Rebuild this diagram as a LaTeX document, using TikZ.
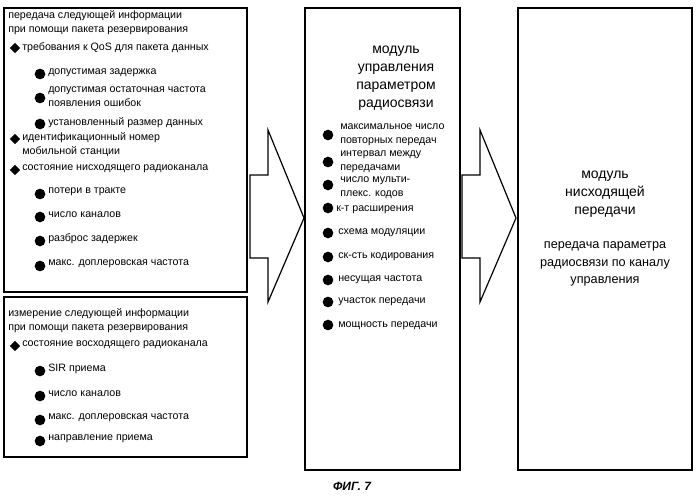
\documentclass[tikz,border=0pt]{standalone}
\usepackage{fontspec}
\setmainfont{Liberation Sans}
\begin{document}
\begin{tikzpicture}[x=0.75pt,y=-0.75pt,
  box/.style={draw,line width=0.9pt},
  txt/.style={anchor=west,font=\fontsize{8}{9}\selectfont,inner sep=0pt},
  two/.style={txt,align=left,font=\fontsize{8}{10.5}\selectfont},
  big/.style={align=center,font=\fontsize{10.5}{13.5}\selectfont,inner sep=0pt},
  dot/.style={circle,fill,inner sep=0pt,minimum size=8pt},
  dia/.style={diamond,fill,inner sep=0pt,minimum size=8pt},
  barrow/.style={draw,line width=0.9pt,fill=white}]
\usetikzlibrary{shapes.geometric}
\useasboundingbox (0,0) rectangle (698,500);
\draw[box] (4,8) rectangle (247,292);
\draw[box] (4,297) rectangle (247,457);
\draw[box] (305,8) rectangle (460,470);
\draw[box] (518,8) rectangle (692,470);
\draw[barrow] (250,175) -- (268,175) -- (268,130) -- (304,218) -- (268,302) -- (268,258) -- (250,258) -- cycle;
\draw[barrow] (462,175) -- (480,175) -- (480,130) -- (516,218) -- (480,302) -- (480,258) -- (462,258) -- cycle;
% left box
\node[txt] (l1) at (8,16) {передача следующей информации};
\node[txt] (l2) at (8,31) {при помощи пакета резервирования};
\node[dia] (d1) at (15,48) {}; \node[txt] (t1) at (22,48) {требования к QoS для пакета данных};
\node[dot] (b1) at (40,74) {}; \node[txt] at (48,73) {допустимая задержка};
\node[dot] (b2) at (40,98) {}; \node[two] at (48,97) {допустимая остаточная частота\\появления ошибок};
\node[dot] (b3) at (40,124) {}; \node[txt] at (48,123) {установленный размер данных};
\node[dia] (d2) at (15,139) {}; \node[two] at (22,145) {идентификационный номер\\мобильной станции};
\node[dia] (d3) at (15,170) {}; \node[txt] at (22,169) {состояние нисходящего радиоканала};
\node[dot] (b4) at (40,194) {}; \node[txt] at (48,192) {потери в тракте};
\node[dot] (b5) at (40,217) {}; \node[txt] at (48,215) {число каналов};
\node[dot] (b6) at (40,241) {}; \node[txt] at (48,239) {разброс задержек};
\node[dot] (b7) at (40,266) {}; \node[txt] at (48,264) {макс. доплеровская частота};
% second box
\node[txt] at (8,314) {измерение следующей информации};
\node[txt] at (8,329) {при помощи пакета резервирования};
\node[dia] (d4) at (15,346) {}; \node[txt] at (22,345) {состояние восходящего радиоканала};
\node[dot] (c1) at (40,371) {}; \node[txt] at (48,369) {SIR приема};
\node[dot] (c2) at (40,396) {}; \node[txt] at (48,394) {число каналов};
\node[dot] (c3) at (40,420) {}; \node[txt] at (48,418) {макс. доплеровская частота};
\node[dot] (c4) at (40,441) {}; \node[txt] at (48,439) {направление приема};
% middle
\node[big] (m) at (396,78) {модуль\\управления\\параметром\\радиосвязи};
\node[dot] at (328,135) {}; \node[two] at (340,135) {максимальное число\\повторных передач};
\node[dot] at (328,162) {}; \node[two] at (340,162) {интервал между\\передачами};
\node[dot] at (328,185) {}; \node[two] at (340,188) {число мульти-\\плекс. кодов};
\node[dot] at (328,208) {}; \node[txt] at (336,210) {к-т расширения};
\node[dot] at (328,233) {}; \node[txt] at (338,233) {схема модуляции};
\node[dot] at (328,257) {}; \node[txt] at (338,257) {ск-сть кодирования};
\node[dot] at (328,280) {}; \node[txt] at (338,280) {несущая частота};
\node[dot] at (328,302) {}; \node[txt] at (338,302) {участок передачи};
\node[dot] at (328,325) {}; \node[txt] at (338,326) {мощность передачи};
% right
\node[big] (r) at (605,194) {модуль\\нисходящей\\передачи};
\node[align=center,font=\fontsize{9.5}{13}\selectfont,inner sep=0pt] (r2) at (605,264) {передача параметра\\радиосвязи по каналу\\управления};
\node[font=\bfseries\itshape\fontsize{9}{10}\selectfont] (cap) at (352,486) {ФИГ. 7};
\end{tikzpicture}
\end{document}
